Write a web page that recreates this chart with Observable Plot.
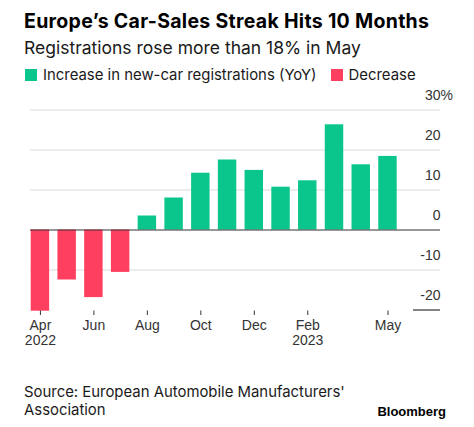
<!DOCTYPE html>
<html><head><meta charset="utf-8">
<script src="https://cdn.jsdelivr.net/npm/d3@7"></script>
<script src="https://cdn.jsdelivr.net/npm/@observablehq/plot@0.6"></script>
<style>
body{margin:0;background:#fff;font-family:Inter,"Liberation Sans",Arial,sans-serif;color:#000;}
#wrap{position:relative;width:474px;height:427px;overflow:hidden;}
.abs{position:absolute;white-space:nowrap;line-height:1;}
#title{left:24px;top:12.2px;font-size:19.5px;font-weight:bold;letter-spacing:0.3px;color:#000;}
#subtitle{left:24px;top:39.2px;font-size:17.5px;color:#1a1a1a;}
#legend{left:25px;top:68.1px;font-size:14.9px;color:#1a1a1a;}
.sw{display:inline-block;width:12px;height:12px;vertical-align:-1px;margin-right:6px;}
#chart{position:absolute;left:0;top:88px;}
#source{left:24px;top:382.6px;font-size:14.9px;line-height:18.5px;color:#1a1a1a;white-space:normal;}
#brand{right:28px;top:405px;font-size:13px;font-weight:bold;color:#000;font-family:"Liberation Sans",Arial,sans-serif;}
</style></head><body>
<div id="wrap">
  <div id="title" class="abs">Europe’s Car-Sales Streak Hits 10 Months</div>
  <div id="subtitle" class="abs">Registrations rose more than 18% in May</div>
  <div id="legend" class="abs"></div>
  <div id="chart"></div>
  <div id="source" class="abs">Source: European Automobile Manufacturers'<br>Association</div>
  <div id="brand" class="abs">Bloomberg</div>
</div>
<script>
const months = ["2022-04","2022-05","2022-06","2022-07","2022-08","2022-09","2022-10","2022-11","2022-12","2023-01","2023-02","2023-03","2023-04","2023-05"];
const values = [-20.3,-12.5,-16.9,-10.6,3.5,8.0,14.2,17.5,14.9,10.7,12.3,26.3,16.3,18.4];
const tickMonths = ["2022-04","2022-06","2022-08","2022-10","2022-12","2023-02","2023-05"];
const tickLabels = ["Apr\n2022","Jun","Aug","Oct","Dec","Feb\n2023","May"];
const gridValues = [30,20,10,-10];
const axisValues = [30,20,10,0,-10,-20];
const axisLabels = ["30","20","10","0","-10","-20"];
const legendLabels = ["Increase in new-car registrations (YoY)","Decrease"];
const green = "#0ac68c", red = "#ff3f5f";
const legendColors = [green, red];

document.getElementById("legend").innerHTML = legendLabels.map((l,i)=>
  `<span style="margin-right:${i===0?14:0}px"><span class="sw" style="background:${legendColors[i]}"></span>${l}</span>`).join("");

const data = months.map((m,i)=>({month:m, value:values[i]}));

const chart = Plot.plot({
  width: 474, height: 270,
  marginLeft: 30, marginRight: 34, marginTop: 0, marginBottom: 47.5,
  style: {fontFamily: "'Liberation Sans', Arial, sans-serif", fontSize: "14px", background: "#fff"},
  x: {type: "band", domain: months, range: [30.7, 396.7], paddingInner: 0.31, paddingOuter: 0, round: false, axis: null},
  y: {domain: [-20, 30], range: [221.5, 21.5], axis: null},
  marks: [
    Plot.ruleY(gridValues, {stroke: "#d9d9d9", strokeWidth: 1}),
    Plot.ruleY([-20], {stroke: "#333", strokeWidth: 1.2, insetLeft: 383}),
    Plot.barY(data, {x: "month", y: "value", fill: d => d.value >= 0 ? green : red}),
    Plot.ruleY([0], {stroke: "#333", strokeWidth: 1.2}),
    Plot.text(axisValues, {y: d => d, text: (d,i) => axisLabels[i], frameAnchor: "right", textAnchor: "end", dy: -14, fontSize: 14, fill: "#333"}),
    Plot.text([30], {y: d => d, text: () => "%", frameAnchor: "right", textAnchor: "start", dy: -14, fontSize: 14, fill: "#333"}),
    Plot.axisX(tickMonths, {tickFormat: d => tickLabels[tickMonths.indexOf(d)], tickSize: 4.5, tickPadding: 4, fontSize: 14, lineHeight: 1.07, color: "#333", label: null})
  ]
});
document.getElementById("chart").appendChild(chart);
</script>
</body></html>
